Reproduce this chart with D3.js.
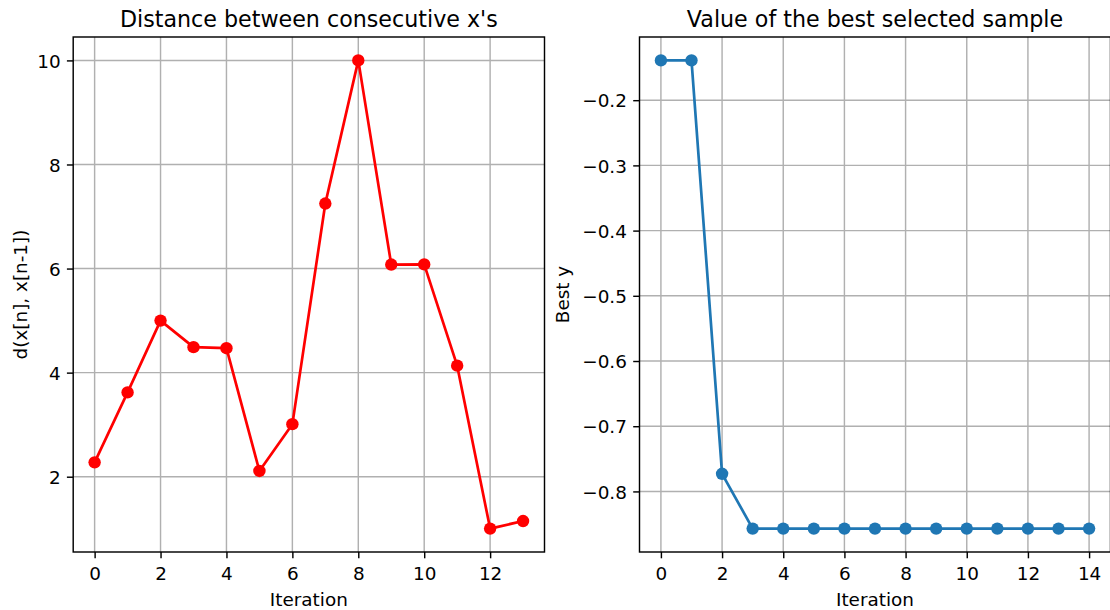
<!DOCTYPE html>
<html>
<head>
  <meta charset="utf-8">
  <title>Distance and best sample</title>
  <script src="https://d3js.org/d3.v7.min.js"></script>
  <style>
    body { margin: 0; background: #fff; }
    svg { display: block; font-family: "DejaVu Sans", sans-serif; }
    .tick text { font-size: 18.4px; fill: #000; font-family: "DejaVu Sans", sans-serif; }
  </style>
</head>
<body>
  <div id="chart"></div>
  <script>
    // data
    var distIter = [0, 1, 2, 3, 4, 5, 6, 7, 8, 9, 10, 11, 12, 13];
    var distValues = [2.276, 3.62, 5.0, 4.49, 4.47, 2.11, 3.01, 7.25, 10.0, 6.077, 6.08, 4.134, 1.003, 1.148];
    var bestIter = [0, 1, 2, 3, 4, 5, 6, 7, 8, 9, 10, 11, 12, 13, 14];
    var bestValues = [-0.139, -0.139, -0.773, -0.857, -0.857, -0.857, -0.857, -0.857,
                      -0.857, -0.857, -0.857, -0.857, -0.857, -0.857, -0.857];
    var distXTicks = [0, 2, 4, 6, 8, 10, 12];
    var distYTicks = [2, 4, 6, 8, 10];
    var bestXTicks = [0, 2, 4, 6, 8, 10, 12, 14];
    var bestYTicks = [-0.8, -0.7, -0.6, -0.5, -0.4, -0.3, -0.2];

    var W = 1110, H = 610;
    var svg = d3.select("#chart").append("svg")
      .attr("width", W)
      .attr("height", H);

    var plotTop = 37, plotBottom = 552;
    var tickLen = 6.3, tickPad = 6.3;

    // pad a range by 5% on each side, like matplotlib's autoscale
    function padded(arr) {
      var e = d3.extent(arr), m = (e[1] - e[0]) * 0.05;
      return [e[0] - m, e[1] + m];
    }

    function drawPanel(opt) {
      var x = d3.scaleLinear().domain(padded(opt.xs)).range([opt.left, opt.right]);
      var y = d3.scaleLinear().domain(padded(opt.ys)).range([plotBottom, plotTop]);
      var g = svg.append("g");
      var cx = (opt.left + opt.right) / 2, cy = (plotTop + plotBottom) / 2;

      // grid
      g.append("g").selectAll("line").data(opt.xTicks).enter().append("line")
        .attr("x1", function(d) { return x(d); })
        .attr("x2", function(d) { return x(d); })
        .attr("y1", plotTop).attr("y2", plotBottom)
        .attr("stroke", "#b0b0b0").attr("stroke-width", 1.44);
      g.append("g").selectAll("line").data(opt.yTicks).enter().append("line")
        .attr("y1", function(d) { return y(d); })
        .attr("y2", function(d) { return y(d); })
        .attr("x1", opt.left).attr("x2", opt.right)
        .attr("stroke", "#b0b0b0").attr("stroke-width", 1.44);

      var pts = opt.xs.map(function(d, i) { return [d, opt.ys[i]]; });

      // line and markers
      g.append("path")
        .datum(pts)
        .attr("d", d3.line()
          .x(function(d) { return x(d[0]); })
          .y(function(d) { return y(d[1]); }))
        .attr("fill", "none")
        .attr("stroke", opt.color)
        .attr("stroke-width", 2.7)
        .attr("stroke-linejoin", "round");
      g.append("g").selectAll("circle").data(pts).enter().append("circle")
        .attr("cx", function(d) { return x(d[0]); })
        .attr("cy", function(d) { return y(d[1]); })
        .attr("r", 6.2)
        .attr("fill", opt.color);

      // axes
      var xAxis = g.append("g")
        .attr("transform", "translate(0," + plotBottom + ")")
        .call(d3.axisBottom(x).tickValues(opt.xTicks).tickSize(tickLen).tickPadding(tickPad)
          .tickFormat(d3.format("d")));
      xAxis.selectAll("text").attr("dy", "0.76em").attr("y", tickLen + tickPad + 1.3);
      var yAxis = g.append("g")
        .attr("transform", "translate(" + opt.left + ",0)")
        .call(d3.axisLeft(y).tickValues(opt.yTicks).tickSize(tickLen).tickPadding(tickPad)
          .tickFormat(d3.format(opt.yFormat)));
      yAxis.selectAll("text").attr("dy", "0.36em");
      [xAxis, yAxis].forEach(function(a) {
        a.select(".domain").remove();
        a.selectAll(".tick line").attr("stroke", "#000").attr("stroke-width", 1.44);
      });

      // frame
      g.append("rect")
        .attr("x", opt.left).attr("y", plotTop)
        .attr("width", opt.right - opt.left).attr("height", plotBottom - plotTop)
        .attr("fill", "none").attr("stroke", "#000").attr("stroke-width", 1.44);

      // texts
      g.append("text")
        .attr("x", cx).attr("y", 26.7)
        .attr("text-anchor", "middle")
        .style("font-size", "22.2px")
        .text(opt.title);
      g.append("text")
        .attr("x", cx).attr("y", 605.7)
        .attr("text-anchor", "middle")
        .style("font-size", "18.4px")
        .text("Iteration");
      g.append("text")
        .attr("transform", "translate(" + opt.yLabelX + "," + cy + ") rotate(-90)")
        .attr("text-anchor", "middle")
        .style("font-size", "18.4px")
        .text(opt.yLabel);
    }

    drawPanel({
      xs: distIter, ys: distValues, xTicks: distXTicks, yTicks: distYTicks,
      left: 73.2, right: 544.5, color: "#ff0000", yFormat: "d",
      title: "Distance between consecutive x's",
      yLabel: "d(x[n], x[n-1])", yLabelX: 26.8
    });

    drawPanel({
      xs: bestIter, ys: bestValues, xTicks: bestXTicks, yTicks: bestYTicks,
      left: 639.5, right: 1110.5, color: "#1f77b4", yFormat: ".1f",
      title: "Value of the best selected sample",
      yLabel: "Best y", yLabelX: 569
    });
  </script>
</body>
</html>
